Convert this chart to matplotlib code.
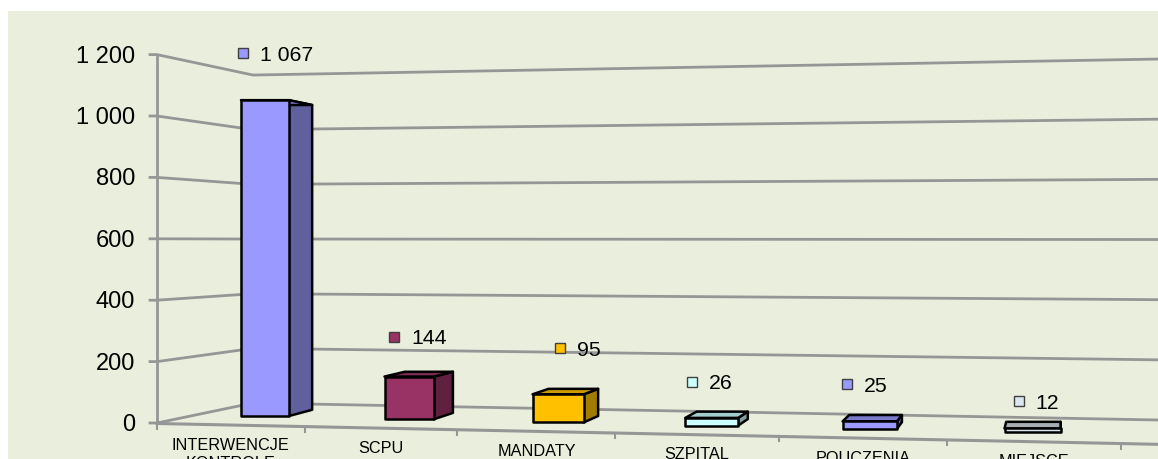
import matplotlib
matplotlib.use('Agg')
import matplotlib.pyplot as plt
from matplotlib.patches import Polygon, Rectangle

plt.rcParams['font.family'] = ['Liberation Sans', 'DejaVu Sans']

categories = ['INTERWENCJE\nKONTROLE', 'SCPU', 'MANDATY', 'SZPITAL', 'POUCZENIA', 'MIEJSCE']
values = [1067, 144, 95, 26, 25, 12]
value_labels = ['1 067', '144', '95', '26', '25', '12']
bar_colors = ['#9999FF', '#993366', '#FFC000', '#CCFFFF', '#9999FF', '#DCE6F1']
side_colors = ['#60609F', '#602040', '#A07D00', '#80A0A0', '#60609F', '#8A9097']
top_colors = ['#7A7ACC', '#7A2952', '#CC9A00', '#A3CCCC', '#7A7ACC', '#A6ADB3']
yticks = [0, 200, 400, 600, 800, 1000, 1200]
ytick_labels = ['0', '200', '400', '600', '800', '1 000', '1 200']

# layout, in pixels of the picture
label_lift = [47, 40, 46, 36, 37, 27]
label_dx = [-22, -15, 2, -20, -23, -14]
horizon = 239
vanish_x = 1061
grid = '#969696'


def wall_left(v):
    return 423 - 0.307 * v


def wall_corner(v):
    return 403 - 0.2733 * v


def wall_right(v):
    return 420 - 0.3008 * v


def floor_y(x):
    return 423.5 + 0.0208 * (x - 157)


def tick_x(i):
    return 157 + 145 * i + 2.6 * i ** 2


def to_back(x, y):
    return vanish_x + (x - vanish_x) * 0.97, horizon + (y - horizon) * 0.965


fig = plt.figure(figsize=(11.58, 4.59), dpi=100)
ax = fig.add_axes([0, 0, 1, 1])
ax.set_xlim(0, 1158)
ax.set_ylim(459, 0)
ax.axis('off')
ax.add_patch(Rectangle((8, 11), 1150, 448, fc='#EAEEDD', ec='none', zorder=0))

# walls
for t, lab in zip(yticks, ytick_labels):
    ax.plot([150, 157, 253, 1158], [wall_left(t), wall_left(t), wall_corner(t), wall_right(t)],
            color=grid, lw=2, zorder=1, solid_joinstyle='miter')
    ax.text(135, wall_left(t) + 2, lab, ha='right', va='center', fontsize=17, color='black')
ax.plot([157, 157], [wall_left(1200), wall_left(0)], color=grid, lw=2, zorder=1)
ax.plot([157, 1158], [floor_y(157), floor_y(1158)], color=grid, lw=2.2, zorder=1)
for i in range(7):
    x = tick_x(i)
    ax.plot([x, x], [floor_y(x), floor_y(x) + 5], color=grid, lw=1.5, zorder=1)

# bars
for i, v in enumerate(values):
    cx = 265 + 142 * i + 2.3 * i ** 2
    w = 48 + 1.6 * i
    x0, x1 = cx - w / 2, cx + w / 2
    y0 = 416 + 3.2 * i
    y1 = y0 - 0.296 * v
    bx0, by1 = to_back(x0, y1)
    bx1, by0 = to_back(x1, y0)
    edge = dict(ec='black', lw=1.8, joinstyle='round', zorder=3)
    ax.add_patch(Polygon([(x1, y0), (x1, y1), (bx1, by1), (bx1, by0)], fc=side_colors[i], **edge))
    ax.add_patch(Polygon([(x0, y1), (x1, y1), (bx1, by1), (bx0, by1)], fc=top_colors[i], **edge))
    ax.add_patch(Polygon([(x0, y0), (x1, y0), (x1, y1), (x0, y1)], fc=bar_colors[i], **edge))

    # data label with its small legend key
    mx = cx + label_dx[i]
    my = y1 - label_lift[i]
    ax.add_patch(Rectangle((mx - 5, my - 5), 10, 10, fc=bar_colors[i], ec='#404040', lw=1, zorder=4))
    ax.text(mx + 17, my + 2, value_labels[i], ha='left', va='center', fontsize=15.3, color='black', zorder=5)

    # category labels sit between the floor ticks and run off the bottom
    mid = (tick_x(i) + tick_x(i + 1)) / 2
    ax.text(mid, floor_y(mid) + 12.5, categories[i], ha='center', va='top',
            fontsize=11.7, color='black', linespacing=1.25, clip_on=True)

fig.savefig('out.png', dpi=100)
